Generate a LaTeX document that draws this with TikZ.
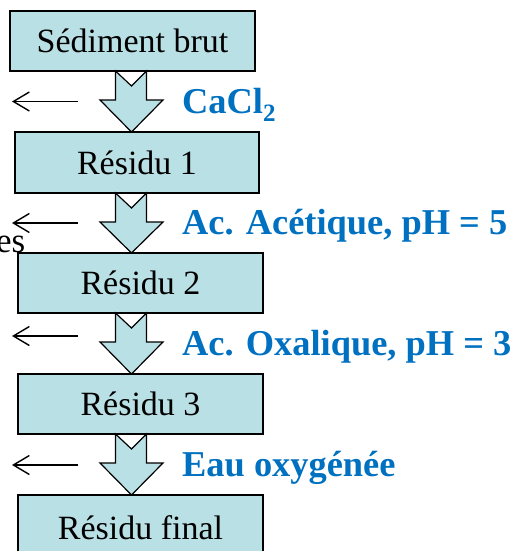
\documentclass[tikz,border=0pt]{standalone}
\usepackage{fontspec}
\setmainfont{Liberation Serif}
\usetikzlibrary{arrows.meta}
\definecolor{boxfill}{RGB}{185,224,228}
\definecolor{labblue}{RGB}{0,112,192}
\tikzset{
  box/.style={draw=black, line width=1.2pt, fill=boxfill, rectangle, inner sep=0pt,
    font=\fontsize{34}{40}\selectfont},
  lab/.style={text=labblue, inner sep=0pt, anchor=base west,
    font=\fontsize{36.4}{42}\selectfont\bfseries},
  outarrow/.style={line width=1.4pt, -{Straight Barb[length=16pt,width=19pt,line width=1.4pt]}},
  blockarrow/.style={draw=black, line width=1.2pt, fill=boxfill, line join=miter}
}
\newcommand{\blockarr}[2]{% top y, tip y
  \filldraw[blockarrow] (115.5,#1) -- (131.5,#1+15) -- (146.5,#1) -- (146.5,#1+29)
    -- (163,#1+29) -- (131.5,#2) -- (100,#1+29) -- (115.5,#1+29) -- cycle;}
\begin{document}
\begin{tikzpicture}[x=1pt,y=-1pt]
\useasboundingbox (0,0) rectangle (518,551);
\clip (0,0) rectangle (518,551);
% boxes
\node[box, minimum width=245pt, minimum height=60pt] (b1) at (132.5,41) {Sédiment brut};
\node[box, minimum width=244pt, minimum height=61pt] (b2) at (137,162.5) {Résidu 1};
\node[box, minimum width=245pt, minimum height=60pt] (b3) at (140.5,283) {Résidu 2};
\node[box, minimum width=245pt, minimum height=60pt] (b4) at (140.5,404) {Résidu 3};
\node[box, minimum width=245pt, minimum height=80pt, text depth=0pt] (b5) at (140.5,535) {\raisebox{14pt}{Résidu final}};
% block arrows
\blockarr{71}{132}
\blockarr{193}{253}
\blockarr{313}{374}
\blockarr{434}{495}
% labels
\node[lab] (l1) at (182,113) {CaCl\raisebox{-8.5pt}{\fontsize{25}{25}\selectfont 2}};
\node[lab] (l2) at (182,234) {Ac. Acétique, pH = 5};
\node[lab] (l3) at (182,355) {Ac. Oxalique, pH = 3};
\node[lab] (l4) at (182,476) {Eau oxygénée};
% partial text
\node[inner sep=0pt, anchor=base east, font=\fontsize{35}{40}\selectfont] (es) at (25.5,252.5) {es};
% side arrows
\coordinate (s1) at (78,101.5); \coordinate (e1) at (12,101.5);
\coordinate (s2) at (78,223); \coordinate (e2) at (12,223);
\coordinate (s3) at (78,336); \coordinate (e3) at (12,336);
\coordinate (s4) at (78,465); \coordinate (e4) at (12,465);
\draw[outarrow] (s1) -- (e1);
\draw[outarrow] (s2) -- (e2);
\draw[outarrow] (s3) -- (e3);
\draw[outarrow] (s4) -- (e4);
\end{tikzpicture}
\end{document}
